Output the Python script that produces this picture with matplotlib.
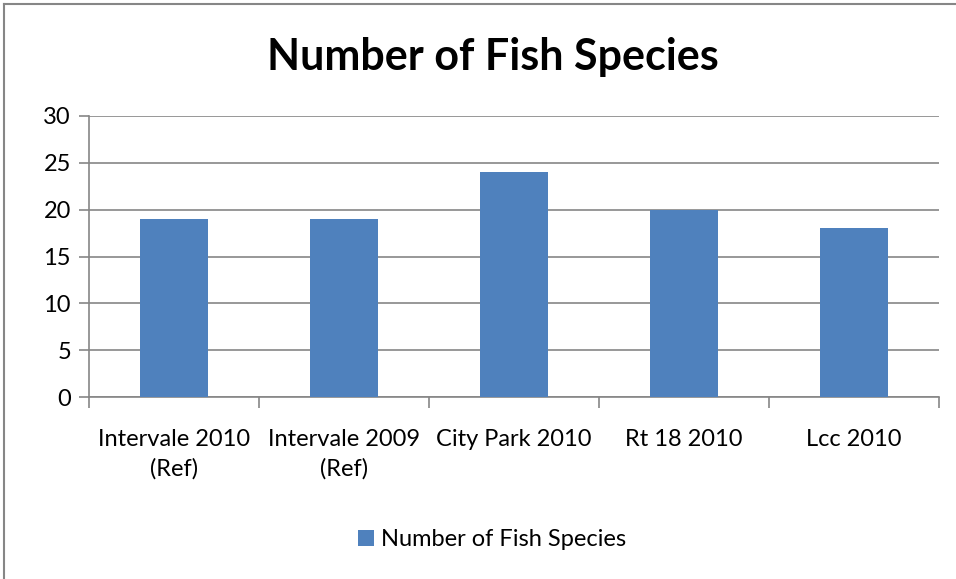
import matplotlib
matplotlib.use("Agg")
import matplotlib.pyplot as plt
from matplotlib.patches import Patch
from matplotlib.lines import Line2D

categories = ["Intervale 2010\n(Ref)", "Intervale 2009\n(Ref)", "City Park 2010", "Rt 18 2010", "Lcc 2010"]
values = [19, 19, 24, 20, 18]
series_name = "Number of Fish Species"
title = "Number of Fish Species"
yticks = [0, 5, 10, 15, 20, 25, 30]

plt.rcParams['font.family'] = ['Lato', 'DejaVu Sans']
W, H = 956, 579
fig = plt.figure(figsize=(W / 100, H / 100), dpi=100)
fig.patch.set_facecolor('white')

left, right = 89 / W, 939 / W
bottom, top = 1 - 397 / H, 1 - 116 / H
ax = fig.add_axes([left, bottom, right - left, top - bottom])

x = list(range(len(categories)))
ax.bar(x, values, width=0.4, color='#4F81BD', zorder=3)
ax.set_xlim(-0.5, len(categories) - 0.5)
ax.set_ylim(0, 30)
ax.set_yticks(yticks)
ax.set_yticklabels([str(t) for t in yticks], fontsize=17)
ax.grid(axis='y', color='#868686', linewidth=1.2, zorder=0)
ax.set_axisbelow(True)
for s in ['top', 'right']:
    ax.spines[s].set_visible(False)
for s in ['left', 'bottom']:
    ax.spines[s].set_color('#868686')
    ax.spines[s].set_linewidth(1.2)
ax.tick_params(axis='y', length=7, width=1.2, color='#868686', pad=6)
ax.set_xticks([i - 0.5 for i in range(len(categories) + 1)], minor=False)
ax.set_xticklabels([])
ax.tick_params(axis='x', length=8, width=1.2, color='#868686')
ax.set_xticks(x, minor=True)
ax.set_xticklabels(categories, minor=True, fontsize=17, linespacing=1.45)
ax.tick_params(axis='x', which='minor', length=0, pad=23)

fig.text(493 / W, 1 - 57 / H, title, ha='center', va='center', fontsize=31, fontweight='bold')

handles = [Patch(facecolor='#4F81BD', label=series_name)]
fig.legend(handles=handles, loc='center', bbox_to_anchor=(492 / W, 1 - 540 / H), frameon=False,
           fontsize=17, handlelength=0.65, handleheight=0.65, handletextpad=0.3)

fig.add_artist(Line2D([4 / W, 4 / W], [0, 1 - 4 / H], color='#868686', linewidth=1.5))
fig.add_artist(Line2D([4 / W, 1], [1 - 4 / H, 1 - 4 / H], color='#868686', linewidth=1.5))

fig.savefig('out.png', dpi=100)
